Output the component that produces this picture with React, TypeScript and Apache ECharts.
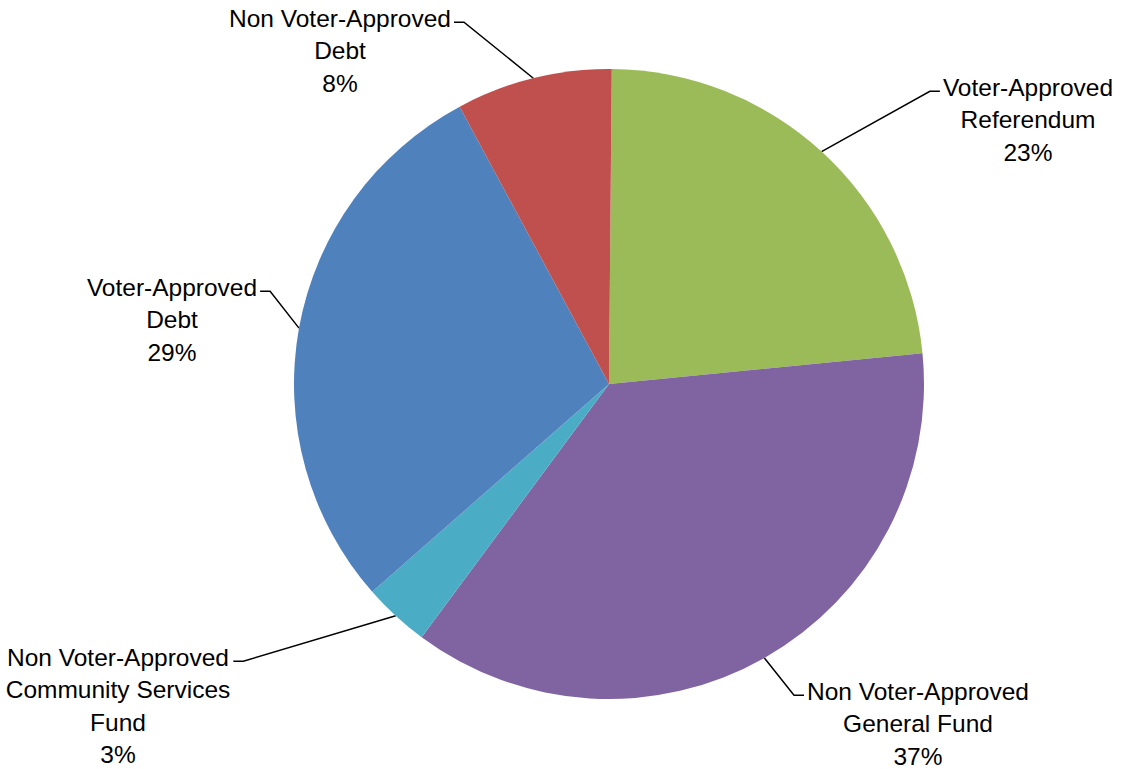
import React, { useEffect, useRef } from "react";
import * as echarts from "echarts";

const categories = [
  "Voter-Approved\nReferendum",
  "Non Voter-Approved\nGeneral Fund",
  "Non Voter-Approved\nCommunity Services\nFund",
  "Voter-Approved\nDebt",
  "Non Voter-Approved\nDebt",
];
const values = [23.3, 36.7, 3.4, 28.6, 8.0];
const colors = ["#9BBB59", "#8064A2", "#4BACC6", "#4F81BD", "#C0504D"];

// label layout: center x of text block, top y, side of the pie
const labelCfg = [
  { cx: 1028, top: 71, side: "right" },
  { cx: 918, top: 675, side: "right" },
  { cx: 118, top: 641, side: "left" },
  { cx: 172, top: 271, side: "left" },
  { cx: 340, top: 2, side: "left" },
];

const LINE_H = 32.5;

export default function App() {
  const ref = useRef<HTMLDivElement>(null);
  useEffect(() => {
    const chart = echarts.init(ref.current!, null, { renderer: "svg" });
    chart.setOption({
      animation: false,
      backgroundColor: "#ffffff",
      series: [
        {
          type: "pie",
          center: [609, 384],
          radius: 315,
          startAngle: 89.5,
          clockwise: true,
          avoidLabelOverlap: false,
          data: categories.map((c, i) => ({
            name: c,
            value: values[i],
            itemStyle: { color: colors[i] },
          })),
          label: {
            show: true,
            position: "outside",
            formatter: (p: any) => `${p.name}\n${Math.round(p.percent)}%`,
            fontFamily: "Liberation Sans",
            fontSize: 24.5,
            lineHeight: LINE_H,
            color: "#000",
            align: "center",
          },
          labelLine: {
            show: true,
            length: 20,
            length2: 10,
            lineStyle: { color: "#000", width: 1.5 },
          },
          labelLayout: (params: any) => {
            const cfg = labelCfg[params.dataIndex];
            const w = params.labelRect.width;
            const p0 = params.labelLinePoints
              ? params.labelLinePoints[0]
              : [0, 0];
            const ey = cfg.top + LINE_H / 2 + 4;
            let ex: number, bx: number;
            if (cfg.side === "right") {
              ex = cfg.cx - w / 2 - 3;
              bx = ex - 10;
            } else {
              ex = cfg.cx + w / 2 + 3;
              bx = ex + 10;
            }
            return {
              x: cfg.cx,
              y: cfg.top,
              align: "center",
              verticalAlign: "top",
              labelLinePoints: [p0, [bx, ey], [ex, ey]],
            };
          },
        },
      ],
    });
    return () => chart.dispose();
  }, []);
  return (
    <div
      ref={ref}
      style={{ position: "fixed", left: 0, top: 0, width: "1130px", height: "769px" }}
    />
  );
}
